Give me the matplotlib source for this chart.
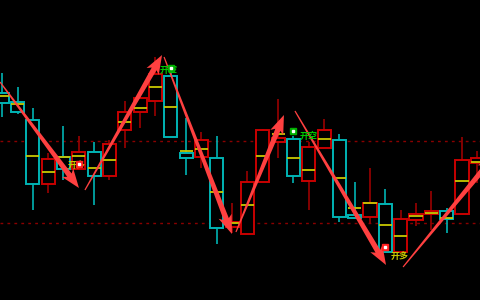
import numpy as np
import matplotlib
matplotlib.use("Agg")
import matplotlib.pyplot as plt
from matplotlib.patches import Polygon

plt.rcParams['font.family'] = ['Noto Sans CJK SC', 'DejaVu Sans']

# candle data (arbitrary price units)
opens  = [207, 198, 180, 116, 143, 131, 148, 124, 170, 188, 199, 224, 147, 143, 142, 73,
          66, 118, 158, 161, 119, 152, 160, 85, 83, 96, 48, 80, 86, 89, 86, 137]
closes = [197, 188, 116, 141, 131, 148, 124, 156, 188, 202, 226, 163, 142, 160, 72, 78,
          118, 170, 162, 124, 153, 170, 83, 82, 97, 48, 81, 86, 89, 81, 140, 142]
highs  = [227, 213, 192, 147, 174, 164, 158, 160, 199, 207, 243, 232, 182, 168, 164, 97,
          129, 171, 201, 164, 158, 181, 166, 118, 132, 111, 90, 97, 109, 92, 163, 149]
lows   = [183, 186, 90, 107, 120, 130, 95, 120, 152, 172, 184, 163, 125, 132, 56, 67,
          66, 118, 142, 117, 90, 152, 78, 81, 77, 48, 48, 74, 70, 67, 86, 117]
avgs   = [204, 196, 144, 128, 143, 144, 132, 140, 178, 192, 213, 193, 149, 151, 108, 77,
          95, 144, 166, 142, 130, 161, 122, 92, 97, 75, 64, 84, 87, 82, 119, 138]

levels = [159.5, 77.5]

# trading signals
sig_idx = [5, 11, 19, 25]
sig_price = [136, 232, 169, 53]
sig_text = ["开多", "开空", "开空", "开多"]
sig_kind = ["long", "short", "short", "long"]
sig_offset = [(-2, -1), (-2, -2), (15, -5), (14, -9)]

# trend arrows: (start idx, start price, end idx, end price)
arrows = [(-0.14, 218, 5.01, 112),
          (5.40, 110, 10.43, 245),
          (10.56, 243, 14.99, 66),
          (15.25, 68, 18.38, 185),
          (19.10, 189, 25.04, 35),
          (26.15, 33, 32.15, 145)]

UP_EDGE = '#c80000'
UP_WICK = '#9a0000'
DN = '#00b4b4'
YEL = '#c8c800'
ARROW = '#ff4040'


def draw_arrow(ax, x0, y0, x1, y1, w0=1.2, w1=5.5, hw=14, hl=16):
    p0 = ax.transData.transform((x0, y0))
    p1 = ax.transData.transform((x1, y1))
    d = p1 - p0
    u = d / np.hypot(*d)
    n = np.array([-u[1], u[0]])
    b = p1 - u * hl
    pts = [p0 + n * w0 / 2, b + n * w1 / 2, b - u * 3 + n * hw / 2, p1,
           b - u * 3 - n * hw / 2, b - n * w1 / 2, p0 - n * w0 / 2]
    pts = ax.transData.inverted().transform(np.array(pts))
    ax.add_patch(Polygon(pts, closed=True, facecolor=ARROW, edgecolor='none', zorder=5))


fig = plt.figure(figsize=(4.8, 3.0), dpi=100, facecolor='black')
ax = fig.add_axes([0, 0, 1, 1])
ax.set_facecolor('black')
ax.set_xlim(-0.1416, 31.17)
ax.set_ylim(0, 300)
ax.axis('off')

for lv in levels:
    ax.axhline(lv, color='#8a0000', lw=1, ls=(0, (2, 3)), zorder=0.5)

x = np.arange(len(opens))
for i in x:
    o, c, h, l = opens[i], closes[i], highs[i], lows[i]
    up = c >= o
    ec = UP_EDGE if up else DN
    wc = UP_WICK if up else DN
    ax.vlines(i, l, h, color=wc, lw=1.2, zorder=1)
    ax.bar(i, max(abs(c - o), 0.8), bottom=min(o, c), width=0.86,
           facecolor='black', edgecolor=ec, lw=1.4, zorder=2)
    ax.hlines(avgs[i], i - 0.43, i + 0.43, color=YEL, lw=1.3, zorder=3)

for a in arrows:
    draw_arrow(ax, *a)

for i, p, t, k, off in zip(sig_idx, sig_price, sig_text, sig_kind, sig_offset):
    tc = '#c8c800' if k == 'long' else '#00c800'
    mc = '#ff2020' if k == 'long' else '#00b000'
    ax.annotate(t, (i, p), xytext=off, textcoords='offset pixels', color=tc,
                fontsize=6.5, fontweight='bold', ha='center', va='center', zorder=6)
    ax.plot(i, p, marker='s', ms=5, mfc=mc, mec=mc, zorder=7)
    ax.plot(i, p, marker='s', ms=2, mfc='white', mec='white', zorder=8)

fig.savefig('out.png', dpi=100, facecolor='black')
